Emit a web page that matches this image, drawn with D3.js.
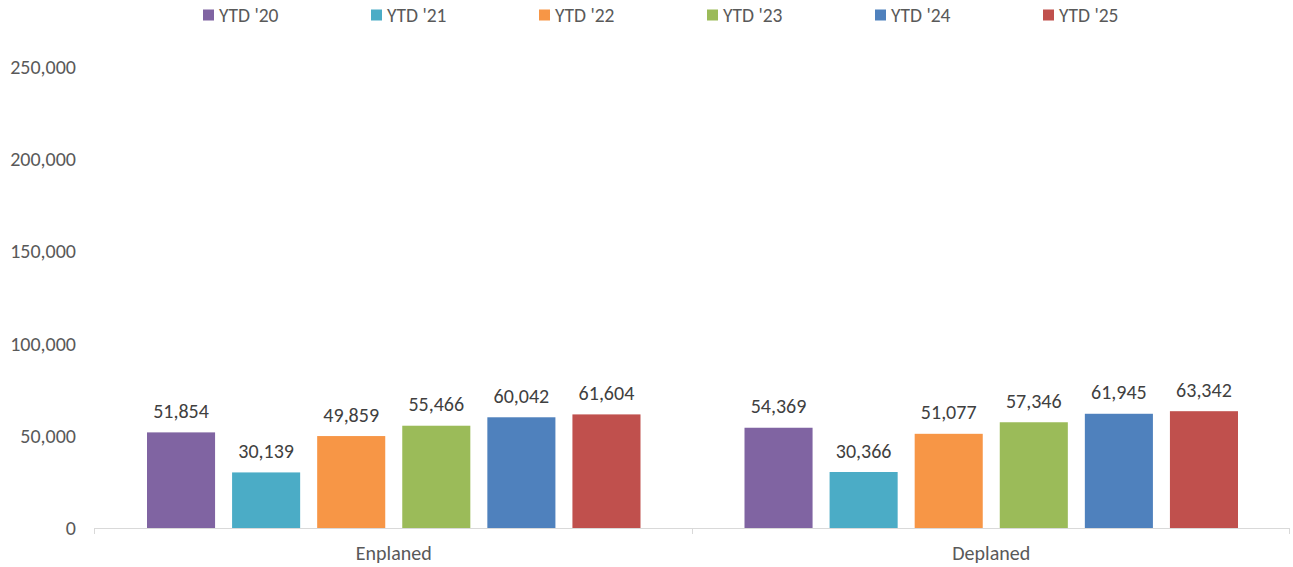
<!DOCTYPE html>
<html>
<head>
<meta charset="utf-8">
<script src="https://cdn.jsdelivr.net/npm/d3@7"></script>
<style>
  body { margin: 0; background: #fff; }
  svg { display: block; font-family: Carlito, Calibri, "Open Sans", sans-serif; }
</style>
</head>
<body>
<div id="chart"></div>
<script>
// Data
const categories = ["Enplaned", "Deplaned"];
const series = ["YTD '20", "YTD '21", "YTD '22", "YTD '23", "YTD '24", "YTD '25"];
const enplaned = [51854, 30139, 49859, 55466, 60042, 61604];
const deplaned = [54369, 30366, 51077, 57346, 61945, 63342];
const yTicks = [0, 50000, 100000, 150000, 200000, 250000];

const colors = ["#8064A2", "#4BACC6", "#F79646", "#9BBB59", "#4F81BD", "#C0504D"];
const values = [enplaned, deplaned];

const width = 1293;
const height = 567;
const margin = { top: 67, right: 3, bottom: 39, left: 95 };

const svg = d3.select("#chart")
  .append("svg")
  .attr("width", width)
  .attr("height", height);

const x0 = d3.scaleBand()
  .domain(categories)
  .range([margin.left, width - margin.right])
  .padding(0);

const outer = 52;
const x1 = d3.scaleBand()
  .domain(series)
  .range([outer, x0.bandwidth() - outer])
  .paddingInner(0.2)
  .paddingOuter(0);

const y = d3.scaleLinear()
  .domain([0, 250000])
  .range([height - margin.bottom, margin.top]);

const fmt = d3.format(",");

// Y axis labels (no line)
svg.append("g")
  .selectAll("text")
  .data(yTicks)
  .join("text")
  .attr("x", 76)
  .attr("y", (d) => y(d))
  .attr("dy", "0.35em")
  .attr("text-anchor", "end")
  .attr("fill", "#595959")
  .attr("font-size", 20)
  .text((d) => fmt(d));

// Bars
const group = svg.append("g")
  .selectAll("g")
  .data(categories)
  .join("g")
  .attr("transform", (d) => `translate(${x0(d)},0)`);

group.selectAll("rect")
  .data((d, i) => values[i].map((v, j) => ({ s: series[j], v: v, c: colors[j] })))
  .join("rect")
  .attr("x", (d) => x1(d.s))
  .attr("y", (d) => y(d.v))
  .attr("width", x1.bandwidth())
  .attr("height", (d) => y(0) - y(d.v))
  .attr("fill", (d) => d.c);

group.selectAll("text.val")
  .data((d, i) => values[i].map((v, j) => ({ s: series[j], v: v })))
  .join("text")
  .attr("class", "val")
  .attr("x", (d) => x1(d.s) + x1.bandwidth() / 2)
  .attr("y", (d) => y(d.v) - 14.5)
  .attr("text-anchor", "middle")
  .attr("fill", "#404040")
  .attr("font-size", 20)
  .text((d) => fmt(d.v));

// X axis
const xAxis = svg.append("g");
xAxis.append("line")
  .attr("x1", x0.range()[0])
  .attr("x2", x0.range()[1])
  .attr("y1", y(0) + 0.5)
  .attr("y2", y(0) + 0.5)
  .attr("stroke", "#d9d9d9");

const edges = categories.map((c) => x0(c)).concat([x0.range()[1]]);
xAxis.selectAll("line.tick")
  .data(edges)
  .join("line")
  .attr("class", "tick")
  .attr("x1", (d) => Math.round(d) - 0.5)
  .attr("x2", (d) => Math.round(d) - 0.5)
  .attr("y1", y(0))
  .attr("y2", y(0) + 6)
  .attr("stroke", "#d9d9d9");

xAxis.selectAll("text")
  .data(categories)
  .join("text")
  .attr("x", (d) => x0(d) + x0.bandwidth() / 2)
  .attr("y", y(0) + 32)
  .attr("text-anchor", "middle")
  .attr("fill", "#595959")
  .attr("font-size", 20)
  .text((d) => d);

// Legend
const legend = svg.append("g")
  .selectAll("g")
  .data(series)
  .join("g")
  .attr("transform", (d, i) => `translate(${203 + i * 168},15)`);

legend.append("rect")
  .attr("x", 0)
  .attr("y", -5.5)
  .attr("width", 11)
  .attr("height", 11)
  .attr("fill", (d, i) => colors[i]);

legend.append("text")
  .attr("x", 16)
  .attr("y", 0)
  .attr("dy", "0.35em")
  .attr("fill", "#595959")
  .attr("font-size", 19.5)
  .text((d) => d);
</script>
</body>
</html>
